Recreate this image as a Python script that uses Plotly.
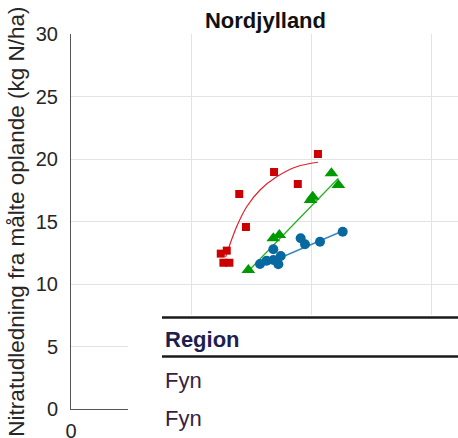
import plotly.graph_objects as go

# ---- data ----
red_x = [102.9, 84.6, 94.5, 70.1, 72.9, 64.9, 62.4, 63.5, 66.0]
red_y = [20.4, 18.96, 18.0, 17.2, 14.56, 12.67, 12.43, 11.7, 11.7]
red_fit_x = [64.4, 65.5, 69.0, 73.2, 78.75, 85.7, 94.0, 102.9]
red_fit_y = [12.16, 12.78, 14.58, 16.18, 17.52, 18.58, 19.38, 19.74]

green_x = [108.5, 111.4, 99.8, 100.7, 86.8, 84.3, 73.9]
green_y = [18.86, 17.92, 16.72, 16.98, 13.92, 13.66, 11.12]
green_fit_x = [73.9, 111.4]
green_fit_y = [11.04, 18.46]

blue_x = [113.2, 103.75, 95.7, 97.5, 84.3, 87.4, 84.3, 86.4, 81.5, 78.75]
blue_y = [14.18, 13.38, 13.66, 13.18, 12.78, 12.24, 11.92, 11.58, 11.86, 11.6]
blue_fit_x = [78.5, 113.2]
blue_fit_y = [11.38, 14.24]

y_ticks = [0, 5, 10, 15, 20, 25, 30]
x_ticks = [0, 50, 100, 150]
x_ticktext = ["0", "", "", ""]

title_text = "Nordjylland"
y_title = "Nitratudledning fra målte oplande (kg N/ha)"
table_header = "Region"
table_rows = ["Fyn", "Fyn"]

RED = "#cc0000"
GREEN = "#009900"
BLUE = "#0868a0"
FONT = "Liberation Sans, Arial, sans-serif"

fig = go.Figure()
fig.add_trace(go.Scatter(x=red_fit_x, y=red_fit_y, mode="lines",
                         line=dict(color="#e0202a", width=1.2, shape="spline"),
                         showlegend=False))
fig.add_trace(go.Scatter(x=green_fit_x, y=green_fit_y, mode="lines",
                         line=dict(color="#20b020", width=1.2), showlegend=False))
fig.add_trace(go.Scatter(x=blue_fit_x, y=blue_fit_y, mode="lines",
                         line=dict(color="#3a88c0", width=1.5), showlegend=False))
fig.add_trace(go.Scatter(x=red_x, y=red_y, mode="markers",
                         marker=dict(symbol="square", size=8, color=RED), showlegend=False))
fig.add_trace(go.Scatter(x=green_x, y=green_y, mode="markers",
                         marker=dict(symbol="triangle-up", size=12, color=GREEN), showlegend=False))
fig.add_trace(go.Scatter(x=blue_x, y=blue_y, mode="markers",
                         marker=dict(symbol="circle", size=10, color=BLUE), showlegend=False))

fig.update_layout(
    width=458, height=438,
    margin=dict(l=71, r=0, t=34, b=29),
    paper_bgcolor="white", plot_bgcolor="white",
    font=dict(family=FONT, size=20, color="#262626"),
    title=dict(text=title_text, x=265.5 / 458, xanchor="center", y=1 - 20 / 438, yanchor="middle",
               font=dict(family=FONT, size=22, color="#111111", weight="bold")),
    xaxis=dict(range=[0, 161.25], tickvals=x_ticks, ticktext=x_ticktext, automargin=False,
               showgrid=True, gridcolor="#e3e3e3", gridwidth=1,
               showline=True, linecolor="#555555", linewidth=1,
               zeroline=False, ticks="", ticklabelstandoff=4,
               tickfont=dict(size=20, color="#262626")),
    yaxis=dict(range=[0, 30], tickvals=y_ticks, automargin=False,
               showgrid=True, gridcolor="#e3e3e3", gridwidth=1,
               showline=True, linecolor="#555555", linewidth=1,
               zeroline=False, ticks="", ticklabelstandoff=8,
               tickfont=dict(size=20, color="#262626"),
               title=dict(text=y_title, standoff=4, font=dict(size=22.5, color="#262626"))),
)

# white table panel covering the lower part
fig.add_shape(type="rect", xref="paper", yref="paper",
              x0=57 / 387, x1=1.02, y0=-0.09, y1=(409 - 315) / 375,
              fillcolor="white", line=dict(width=0), layer="above")
# table rules
fig.add_shape(type="line", xref="paper", yref="paper",
              x0=(162 - 71) / 387, x1=1.02, y0=(409 - 317.5) / 375, y1=(409 - 317.5) / 375,
              line=dict(color="#1a1a1a", width=2.5), layer="above")
fig.add_shape(type="line", xref="paper", yref="paper",
              x0=(162 - 71) / 387, x1=1.02, y0=(409 - 356.5) / 375, y1=(409 - 356.5) / 375,
              line=dict(color="#1a1a1a", width=2.5), layer="above")

fig.add_annotation(text="<b>" + table_header + "</b>", xref="paper", yref="paper",
                   x=(163 - 71) / 387, y=(409 - 339) / 375, xanchor="left", yanchor="middle",
                   showarrow=False, font=dict(family=FONT, size=22, color="#1e1e50"))
for i, row in enumerate(table_rows):
    ypx = 380 + i * 38
    fig.add_annotation(text=row, xref="paper", yref="paper",
                       x=(163 - 71) / 387, y=(409 - ypx) / 375, xanchor="left", yanchor="middle",
                       showarrow=False, font=dict(family=FONT, size=22, color="#3a1e3e"))

fig.write_html("out.html")
